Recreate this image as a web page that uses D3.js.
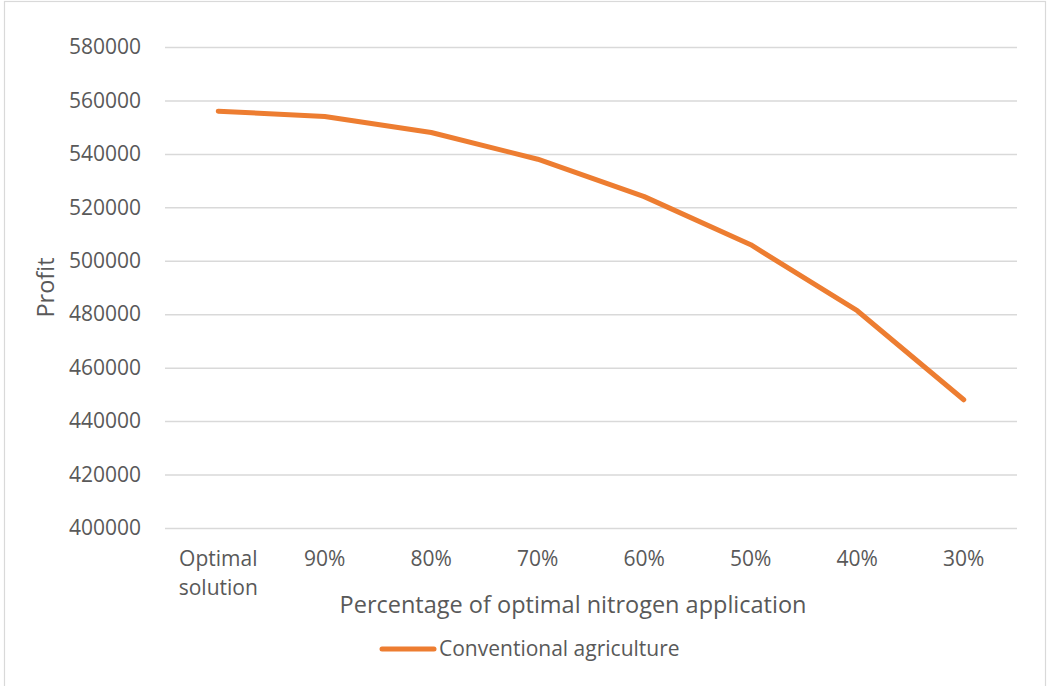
<!DOCTYPE html>
<html>
<head>
<meta charset="utf-8">
<script src="https://cdn.jsdelivr.net/npm/d3@7"></script>
<style>
  html, body { margin: 0; padding: 0; background: #fff; }
  svg { display: block; }
  text { font-family: "Open Sans", "Noto Sans", sans-serif; fill: #595959; }
</style>
</head>
<body>
<script>
// Profit under reduced nitrogen application
const categories = ["Optimal solution", "90%", "80%", "70%", "60%", "50%", "40%", "30%"];
const profit = [556000, 554000, 548000, 538000, 524000, 506000, 481300, 448000];
const yTicks = [400000, 420000, 440000, 460000, 480000, 500000, 520000, 540000, 560000, 580000];
const seriesName = "Conventional agriculture";
const xTitle = "Percentage of optimal nitrogen application";
const yTitle = "Profit";

const W = 1047, H = 686;
const plot = { left: 165, right: 1017, top: 47, bottom: 528 };
const labelSize = 21, titleSize = 23.5;

const svg = d3.select("body").append("svg").attr("width", W).attr("height", H);

// chart frame
svg.append("rect")
  .attr("x", 4.5).attr("y", 1.5).attr("width", W - 6).attr("height", H + 4)
  .attr("fill", "none").attr("stroke", "#d9d9d9").attr("stroke-width", 1.2);

const x = d3.scaleBand().domain(categories).range([plot.left, plot.right]);
const y = d3.scaleLinear().domain([400000, 580000]).range([plot.bottom, plot.top]);

// horizontal gridlines + value labels
const yAxis = svg.append("g")
  .attr("transform", `translate(${plot.left},0)`)
  .call(d3.axisLeft(y).tickValues(yTicks).tickFormat(d3.format("d"))
    .tickSize(-(plot.right - plot.left)).tickPadding(24));
yAxis.select(".domain").remove();
yAxis.selectAll(".tick line").attr("stroke", "#d9d9d9").attr("stroke-width", 1.5);
yAxis.selectAll(".tick text")
  .attr("font-size", labelSize).attr("fill", "#595959")
  .style("font-family", '"Open Sans", sans-serif');

// category labels (wrapped onto two lines when long)
const xAxis = svg.append("g")
  .attr("transform", `translate(0,${plot.bottom})`)
  .call(d3.axisBottom(x).tickSize(0).tickPadding(0));
xAxis.select(".domain").remove();
xAxis.selectAll(".tick text").each(function(d) {
  const t = d3.select(this);
  t.text(null).attr("font-size", labelSize).attr("fill", "#595959")
    .style("font-family", '"Open Sans", sans-serif')
    .attr("y", 0).attr("dy", null);
  const words = d.split(" ");
  words.forEach((w, i) => {
    t.append("tspan").attr("x", 0).attr("y", 38 + i * 29).text(w);
  });
});

// axis titles
svg.append("text")
  .attr("x", (plot.left + plot.right) / 2 - 18).attr("y", 613)
  .attr("text-anchor", "middle").attr("font-size", titleSize).text(xTitle);

svg.append("text")
  .attr("transform", `translate(54,${(plot.top + plot.bottom) / 2}) rotate(-90)`)
  .attr("text-anchor", "middle").attr("font-size", titleSize).text(yTitle);

// series line
const line = d3.line()
  .x((d, i) => x(categories[i]) + x.bandwidth() / 2)
  .y(d => y(d));

svg.append("path")
  .datum(profit)
  .attr("d", line)
  .attr("fill", "none")
  .attr("stroke", "#ED7D31")
  .attr("stroke-width", 5)
  .attr("stroke-linecap", "round")
  .attr("stroke-linejoin", "round");

// legend
const lg = svg.append("g").attr("transform", "translate(0,649)");
lg.append("line")
  .attr("x1", 382).attr("x2", 434).attr("y1", 0).attr("y2", 0)
  .attr("stroke", "#ED7D31").attr("stroke-width", 5).attr("stroke-linecap", "round");
lg.append("text")
  .attr("x", 439).attr("y", 0).attr("dy", "0.35em")
  .attr("font-size", labelSize).text(seriesName);
</script>
</body>
</html>
